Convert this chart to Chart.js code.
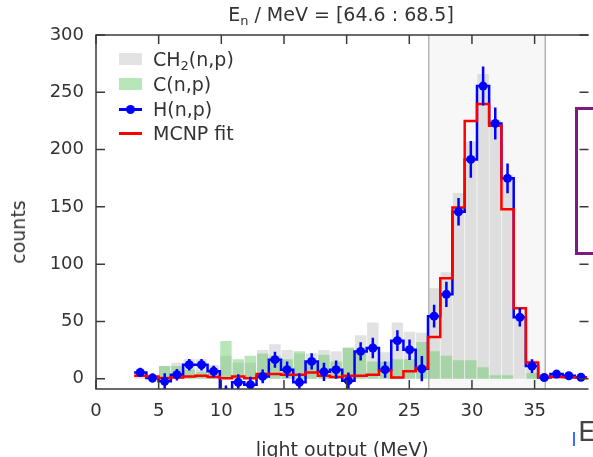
<!DOCTYPE html>
<html>
<head>
<meta charset="utf-8">
<script src="https://cdn.jsdelivr.net/npm/chart.js@4.4.1/dist/chart.umd.min.js"></script>
<style>
  html, body { margin: 0; padding: 0; background: #fff; overflow: hidden; width: 593px; height: 457px; }
  #wrap { position: relative; width: 593px; height: 475px; font-family: 'DejaVu Sans', sans-serif; color: #333; }
  #wrap canvas { position: absolute; left: 0; top: 0; }
  .txt { position: absolute; font-size: 19px; line-height: 20px; white-space: nowrap; }
  .txt sub { font-size: 13px; vertical-align: -4px; line-height: 0; }
  .sw { position: absolute; left: 119px; width: 23px; }
</style>
</head>
<body>
<div id="wrap">
  <canvas id="chart" width="593" height="475"></canvas>
  <div class="txt" style="left:96px;width:490px;top:4px;text-align:center;">E<sub>n</sub> / MeV = [64.6 : 68.5]</div>
  <div class="txt" style="left:18px;top:232px;transform:translate(-50%,-50%) rotate(-90deg);">counts</div>

  <div class="sw" style="top:53px;height:12px;background:#e3e3e3;"></div>
  <div class="txt" style="left:153px;top:49px;">CH<sub>2</sub>(n,p)</div>
  <div class="sw" style="top:78px;height:12px;background:#b7e7b7;"></div>
  <div class="txt" style="left:153px;top:74px;">C(n,p)</div>
  <div class="sw" style="top:108px;height:2.5px;background:#0000ff;"></div>
  <div style="position:absolute;left:126px;top:105px;width:9px;height:9px;border-radius:50%;background:#0000ff;"></div>
  <div class="txt" style="left:153px;top:99px;">H(n,p)</div>
  <div class="sw" style="top:132px;height:2.5px;background:#ff0000;"></div>
  <div class="txt" style="left:153px;top:123px;">MCNP fit</div>

  <div style="position:absolute;left:575px;top:107px;width:40px;height:142px;border:3px solid #7d1a80;"></div>
  <div style="position:absolute;left:573px;top:432px;width:1.5px;height:14px;background:#3a6cff;"></div>
  <div class="txt" style="left:578px;top:418px;font-size:27px;line-height:28px;color:#444;">E</div>
</div>
<script>
const FONT = "'DejaVu Sans', sans-serif";
const TEXT = '#333';

// bin centres (MeV) and width
const binCenters = [3.53, 4.51, 5.48, 6.46, 7.44, 8.42, 9.39, 10.37, 11.35, 12.32, 13.30, 14.28, 15.25,
    16.23, 17.21, 18.19, 19.16, 20.14, 21.12, 22.09, 23.07, 24.05, 25.02, 26.00, 26.98, 27.96, 28.93,
    29.91, 30.89, 31.86, 32.84, 33.82, 34.79, 35.77, 36.75, 37.73, 38.70];
const binWidth = 0.977;

const ch2Counts = [6, 2, 11, 14, 17, 17, 12, 20, 14, 14, 25, 30, 25, 22, 22, 25, 24, 27, 38, 49, 23, 49, 41, 40,
    79, 93, 162, 207, 266, 226, 178, 54, 16, 1, 4, 3, 1];
const cCounts = [0, 0, 11, 11, 8, 6, 6, 33, 17, 20, 22, 20, 17, 24, 14, 21, 15, 27, 25, 15, 15, 17, 17, 32,
    24, 20, 16, 16, 10, 3, 3, 0, 5, 0, 0, 0, 0];
const hCounts = [5.5, 0.6, -2.3, 3.5, 12.2, 12.2, 6.4, -12, -3.2, -5.2, 2, 16.6, 7.9, -3.2, 15.1, 6, 7.9, -1.7,
    23.8, 26.8, 7.9, 33.2, 25.3, 8.7, 54.6, 73.6, 145.7, 191.4, 255.4, 222.8, 174.9, 53.6, 11, 1, 4, 2.6, 1.2];
const hErrors = [4, 4, 7, 5, 5, 5, 5, 6, 7, 7, 6, 7, 7, 8, 7, 8, 8, 7, 8, 9, 7, 9, 9, 11, 10, 11, 12, 16, 17,
    14, 13, 8, 6, 2, 2, 2, 2];
const mcnpCounts = [2.6, 2, 0.6, 1, 2, 2.6, 1.5, 0.3, 2, 0.3, 4, 4, 3.5, 3.5, 5.5, 2.6, 1.5, 2.6, 2.6, 3.5, 7, 1,
    6.4, 9.3, 36.4, 87.6, 149.5, 225, 239.7, 220.8, 148, 61.4, 14.2, 1.7, 1.5, 1.2, 1];

const peakWindow = [26.55, 35.85];
const xTicks = [0, 5, 10, 15, 20, 25, 30, 35];
const yTicks = [0, 50, 100, 150, 200, 250, 300];

const bars = arr => binCenters.map((c, i) => ({ x: c, y: arr[i] }));
// histogram outline: left edge of each bin, plus the right edge of the last one
const steps = arr => {
    const pts = binCenters.map((c, i) => ({ x: c - binWidth / 2, y: arr[i] }));
    pts.push({ x: binCenters[binCenters.length - 1] + binWidth / 2, y: arr[arr.length - 1] });
    return pts;
};

const framePlugin = {
    id: 'frame',
    beforeDatasetsDraw(chart) {
        const { ctx, chartArea: a, scales: { x } } = chart;
        const l = x.getPixelForValue(peakWindow[0]), r = x.getPixelForValue(peakWindow[1]);
        ctx.save();
        ctx.fillStyle = '#f7f7f7';
        ctx.fillRect(l, a.top, r - l, a.bottom - a.top);
        ctx.strokeStyle = '#b4b4b4'; ctx.lineWidth = 1.5;
        [l, r].forEach(p => { ctx.beginPath(); ctx.moveTo(p, a.top); ctx.lineTo(p, a.bottom); ctx.stroke(); });
        ctx.restore();
    },
    beforeDatasetDraw(chart, args) {
        if (args.index !== 0) return;
        const { ctx, chartArea: a, scales: { x, y } } = chart;
        ctx.save();
        ctx.beginPath(); ctx.rect(a.left, a.top, a.right - a.left, a.bottom - a.top); ctx.clip();
        ctx.strokeStyle = '#0000ff'; ctx.lineWidth = 2.5;
        binCenters.forEach((c, i) => {
            const px = x.getPixelForValue(c);
            ctx.beginPath();
            ctx.moveTo(px, y.getPixelForValue(hCounts[i] - hErrors[i]));
            ctx.lineTo(px, y.getPixelForValue(hCounts[i] + hErrors[i]));
            ctx.stroke();
        });
        ctx.restore();
    },
    afterDraw(chart) {
        const { ctx, chartArea: a, scales: { x, y } } = chart;
        ctx.save();
        ctx.strokeStyle = '#3a3a3a'; ctx.lineWidth = 1.5;
        ctx.beginPath();
        ctx.moveTo(a.right, a.top); ctx.lineTo(a.left, a.top); ctx.lineTo(a.left, a.bottom); ctx.lineTo(a.right, a.bottom);
        ctx.stroke();
        ctx.beginPath();
        xTicks.forEach(v => {
            const px = x.getPixelForValue(v);
            ctx.moveTo(px, a.bottom); ctx.lineTo(px, a.bottom - 9);
            ctx.moveTo(px, a.top); ctx.lineTo(px, a.top + 9);
        });
        yTicks.forEach(v => {
            const py = y.getPixelForValue(v);
            ctx.moveTo(a.left, py); ctx.lineTo(a.left + 9, py);
            ctx.moveTo(a.right, py); ctx.lineTo(a.right - 9, py);
        });
        ctx.stroke();
        ctx.restore();
    }
};

new Chart(document.getElementById('chart'), {
    data: {
        datasets: [
            { type: 'scatter', label: 'H(n,p)', data: bars(hCounts), pointRadius: 4.5, pointBackgroundColor: '#0000ff', pointBorderWidth: 0, showLine: false },
            { type: 'line', label: 'MCNP fit', data: steps(mcnpCounts), stepped: 'before', borderColor: '#ff0000', borderWidth: 2.5, pointRadius: 0, fill: false },
            { type: 'line', label: 'H step', data: steps(hCounts), stepped: 'before', borderColor: '#0000ff', borderWidth: 2.5, pointRadius: 0, fill: false },
            { type: 'bar', label: 'C(n,p)', data: bars(cCounts), backgroundColor: 'rgba(100,200,100,0.45)', grouped: false, categoryPercentage: 1, barPercentage: 0.94 },
            { type: 'bar', label: 'CH2(n,p)', data: bars(ch2Counts), backgroundColor: 'rgba(190,190,190,0.45)', grouped: false, categoryPercentage: 1, barPercentage: 0.94 }
        ]
    },
    options: {
        responsive: false, animation: false,
        layout: { padding: { top: 35, right: 0, bottom: 0, left: 0 } },
        plugins: { legend: { display: false }, title: { display: false }, tooltip: { enabled: false } },
        scales: {
            x: {
                type: 'linear', min: 0, max: 39.3, offset: false,
                grid: { display: false, drawTicks: false, offset: false }, border: { display: false },
                ticks: { padding: 12, color: TEXT, font: { family: FONT, size: 18 }, maxRotation: 0, autoSkip: false },
                afterBuildTicks: s => { s.ticks = xTicks.map(v => ({ value: v })); },
                afterFit: s => { s.height = 86; },
                title: { display: true, text: 'light output (MeV)', color: TEXT, font: { family: FONT, size: 19 }, padding: { top: 0, bottom: 13 } }
            },
            y: {
                min: -9, max: 300,
                grid: { display: false, drawTicks: false }, border: { display: false },
                ticks: { padding: 12, color: TEXT, font: { family: FONT, size: 18 } },
                afterBuildTicks: s => { s.ticks = yTicks.map(v => ({ value: v })); },
                afterFit: s => { s.width = 96; }
            }
        }
    },
    plugins: [framePlugin]
});
</script>
</body>
</html>
